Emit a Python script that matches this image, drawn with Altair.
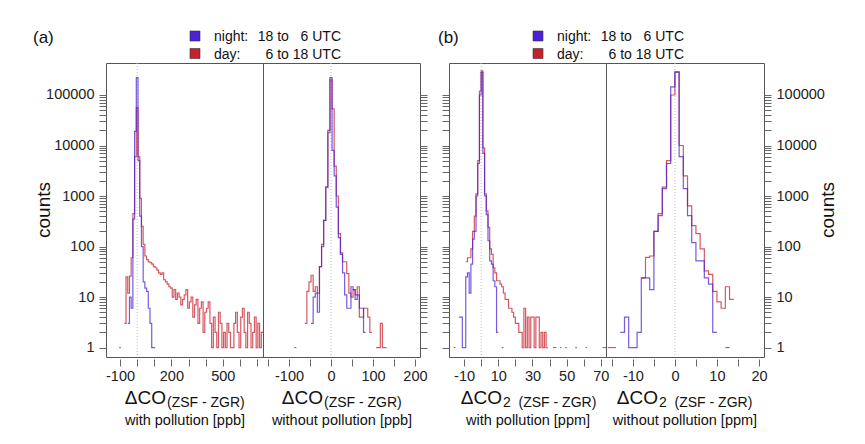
import altair as alt
import pandas as pd

FONT = "Liberation Sans"
NIGHT = "#4b22d6"
DAY = "#c8202c"

# ---------------- data (bin start, bin width, counts per bin) ----------------
# (a) dCO with pollution [ppb], bins of 10 ppb centred on -100 ... 730
A1_START, A1_WIDTH = -105, 10
A1_NIGHT = [0, 0, 0, 0, 0, 3, 10, 6, 350, 19000,
            220000, 5000, 400, 100, 20, 15, 13, 6, 3, 1,
            1]
A1_DAY = [1, 0, 0, 3, 25, 12, 26, 60, 450, 6000,
          56000, 6000, 900, 250, 110, 65, 55, 50, 48, 45,
          40, 38, 34, 30, 28, 30, 22, 20, 18, 16,
          15, 10, 14, 9, 12, 10, 7, 9, 11, 14,
          6, 8, 10, 4, 7, 9, 3, 6, 8, 2,
          5, 6, 8, 3, 1, 4, 2, 1, 5, 3,
          1, 2, 1, 3, 2, 1, 1, 3, 5, 2,
          1, 4, 6, 2, 1, 5, 3, 1, 2, 4,
          1, 3, 1, 2]

# (a) dCO without pollution [ppb], bins of 5 ppb centred on -90 ... 130
A2_START, A2_WIDTH = -92.5, 5
A2_NIGHT = [0, 0, 0, 0, 0, 0, 0, 0, 0, 3,
            10, 12, 5, 40, 100, 330, 1500, 20000, 220000, 8000,
            2500, 600, 150, 70, 30, 11, 6, 6, 16, 14,
            9, 11, 6, 6, 2]
A2_DAY = [0, 1, 0, 0, 0, 0, 3, 13, 20, 27,
          13, 16, 12, 40, 110, 330, 1500, 18000, 200000, 53000,
          3900, 1000, 180, 75, 50, 50, 29, 12, 10, 14,
          11, 16, 4, 4, 6, 6, 4, 2, 0, 0,
          1, 1, 3, 1, 1]

# (b) dCO2 with pollution [ppm], bins of 1 ppm starting at -17
B1_START, B1_WIDTH = -17, 1
B1_NIGHT = [0, 0, 0, 0, 4, 4, 1, 1, 25, 30,
            12, 45, 140, 200, 1000, 4400, 100000, 280000, 7000, 1000,
            430, 130, 52, 45, 21, 16, 2, 0, 0, 1]
B1_DAY = [0, 1, 0, 0, 0, 0, 0, 0, 50, 60,
          60, 90, 200, 400, 1100, 5000, 120000, 300000, 9000, 1100,
          510, 240, 90, 70, 38, 30, 21, 21, 18, 16,
          12, 9, 9, 6, 6, 5, 4, 3, 3, 2,
          2, 1, 6, 1, 4, 1, 4, 4, 1, 4,
          4, 1, 2, 1, 2, 1, 0, 0, 0, 1,
          1, 0, 0, 1, 0, 0, 1, 0, 0, 0,
          0, 0, 1, 0, 0, 0, 0, 0, 1, 0,
          0, 0, 0, 0, 0, 0, 0, 0, 1, 1]

# (b) dCO2 without pollution [ppm], bins of 1 ppm starting at -17
B2_START, B2_WIDTH = -17, 1
B2_NIGHT = [0, 0, 0, 0, 2, 4, 1, 1, 2, 24,
            24, 14, 200, 410, 1400, 4400, 145000, 280000, 6000, 1400,
            410, 120, 52, 52, 24, 18, 2, 0, 0, 1]
B2_DAY = [0, 1, 1, 0, 0, 0, 0, 0, 0, 24,
          61, 65, 200, 450, 1500, 5000, 100000, 290000, 10000, 2500,
          640, 260, 180, 90, 33, 28, 13, 8, 6, 16,
          9]

Y_TICKS = [m * 10 ** e for e in range(0, 5) for m in range(1, 10)] + [100000]
Y_LABELED = [1, 10, 100, 1000, 10000, 100000]

A1_TICKS = list(range(-100, 701, 100)); A1_LAB = [-100, 200, 500]
A2_TICKS = list(range(-150, 201, 50)); A2_LAB = [-100, 0, 100, 200]
B1_TICKS = list(range(-10, 71, 10)); B1_LAB = [-10, 10, 30, 50, 70]
B2_TICKS = list(range(-15, 21, 5)); B2_LAB = [-10, 0, 10, 20]

H = 294
Y_DOMAIN = [0.65, 430000]


def hist_rows(start, width, counts):
    rows, seg, order, prev = [], 0, 0, False
    for i, c in enumerate(counts):
        if c > 0:
            if not prev:
                seg += 1
            left = start + i * width
            for xx in (left, left + width):
                rows.append({"x": xx, "y": c, "seg": seg, "o": order})
                order += 1
            prev = True
        else:
            prev = False
    return pd.DataFrame(rows)


def txt(text, x, y, size, align="center", baseline="alphabetic", angle=0, color="#111"):
    return alt.Chart(pd.DataFrame({"t": [text]})).mark_text(
        font=FONT, fontSize=size, align=align, baseline=baseline, angle=angle, color=color
    ).encode(text="t:N", x=alt.value(x), y=alt.value(y))


def square(x, y, color):
    return alt.Chart(pd.DataFrame({"t": [0]})).mark_square(
        size=100, filled=True, color=color, stroke="#333", strokeWidth=0.6, opacity=1
    ).encode(x=alt.value(x), y=alt.value(y))


def legend():
    return [
        square(89, -27, NIGHT), square(89, -9.5, DAY),
        txt("night:", 108, -22, 14, align="left"),
        txt("18 to \u00a0\u00a06 UTC", 235, -22, 14, align="right"),
        txt("day:", 108, -4.5, 14, align="left"),
        txt("6 to 18 UTC", 235, -4.5, 14, align="right"),
    ]


def xtitle(sub, line2, split):
    return [
        txt("\u0394CO", split, 341, 19, align="right"),
        txt(sub, split + 1, 344, 14, align="left"),
        txt(line2, 79, 362, 14.5),
    ]


def panel(start, width, night, day, domain, ticks, labeled, y_orient, y_labels, extra, w):
    lab = ",".join(str(v) for v in labeled)
    x = alt.X("x:Q", title=None,
              scale=alt.Scale(domain=domain, nice=False, zero=False),
              axis=alt.Axis(values=ticks, tickSize=7, offset=2, labelPadding=3,
                            labelExpr=f"indexof([{lab}], datum.value) >= 0 ? ((datum.value < 0 ? '-' : '') + abs(datum.value)) : ''",
                            labelOverlap=False, labelFlush=False))
    ylab = ",".join(str(v) for v in Y_LABELED)
    y = alt.Y("y:Q", title=None,
              scale=alt.Scale(type="log", domain=Y_DOMAIN, nice=False),
              axis=alt.Axis(orient=y_orient, values=Y_TICKS, tickSize=7, labels=y_labels,
                            labelPadding=5, labelOverlap=False, labelFlush=False,
                            labelExpr=f"indexof([{ylab}], datum.value) >= 0 ? format(datum.value, 'd') : ''"))
    zero = alt.Chart(pd.DataFrame({"x": [0]})).mark_rule(
        strokeDash=[1, 2], color="#b8b8c8", strokeWidth=1).encode(x=x)
    dline = alt.Chart(hist_rows(start, width, day)).mark_line(
        color=DAY, strokeWidth=1.2, opacity=0.75, clip=True).encode(
        x=x, y=y, detail="seg:N", order="o:Q")
    nline = alt.Chart(hist_rows(start, width, night)).mark_line(
        color=NIGHT, strokeWidth=1.2, opacity=0.75, clip=True).encode(
        x=x, y=y, detail="seg:N", order="o:Q")
    return alt.layer(zero, dline, nline, *extra).properties(width=w, height=H)


a1 = panel(A1_START, A1_WIDTH, A1_NIGHT, A1_DAY, [-182, 735], A1_TICKS, A1_LAB, "left", True,
           [txt("(a)", -73, -20, 17, align="left"),
            txt("counts", -62, 147, 19, baseline="middle", angle=270)]
           + legend()
           + xtitle("(ZSF - ZGR)", "with pollution [ppb]", 60), 157)
a2 = panel(A2_START, A2_WIDTH, A2_NIGHT, A2_DAY, [-162, 212], A2_TICKS, A2_LAB, "right", False,
           xtitle("(ZSF - ZGR)", "without pollution [ppb]", 60), 157)
b1 = panel(B1_START, B1_WIDTH, B1_NIGHT, B1_DAY, [-18.8, 73], B1_TICKS, B1_LAB, "left", False,
           [txt("(b)", -11, -20, 17, align="left")]
           + legend()
           + xtitle("2\u00a0\u00a0(ZSF - ZGR)", "with pollution [ppm]", 53), 157)
b2 = panel(B2_START, B2_WIDTH, B2_NIGHT, B2_DAY, [-16.4, 21.2], B2_TICKS, B2_LAB, "right", True,
           [txt("counts", 222, 147, 19, baseline="middle", angle=270)]
           + xtitle("2\u00a0\u00a0(ZSF - ZGR)", "without pollution [ppm]", 52), 158)

spacer = alt.Chart(pd.DataFrame({"t": [0]})).mark_point(opacity=0).encode(
    x=alt.value(0), y=alt.value(0)
).properties(width=29, height=H, view=alt.ViewBackground(stroke="transparent"))

chart = alt.hconcat(a1, a2, spacer, b1, b2, spacing=0, bounds="flush").properties(
    padding={"left": 24, "top": 20, "right": 5, "bottom": 5}
).configure_view(stroke="#555", strokeWidth=1).configure_axis(
    labelFont=FONT, labelFontSize=14.5, labelColor="#222", tickColor="#666",
    domain=False, grid=False, tickWidth=1
)

chart.save("out.html", embed_options={"renderer": "svg", "actions": False})
